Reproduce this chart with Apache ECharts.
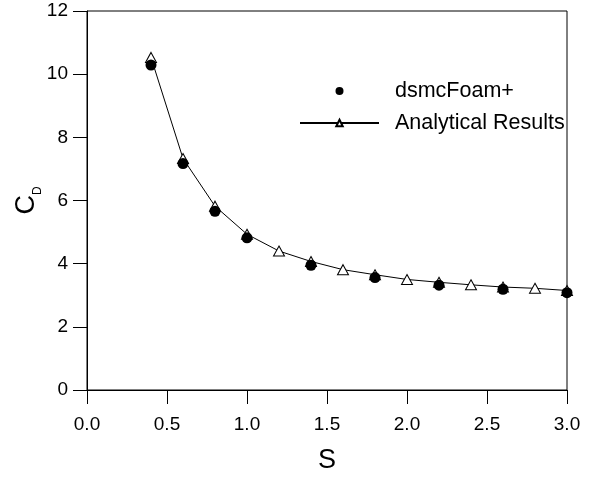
<!DOCTYPE html>
<html>
<head>
<meta charset="utf-8">
<script src="https://cdn.jsdelivr.net/npm/echarts@6/dist/echarts.min.js"></script>
<style>
html,body{margin:0;padding:0;background:#fff;}
#c{width:604px;height:477px;}
</style>
</head>
<body>
<div id="c"></div>
<script>
var dsmcS = [0.4, 0.6, 0.8, 1.0, 1.4, 1.8, 2.2, 2.6, 3.0];
var dsmcCD = [10.29, 7.17, 5.66, 4.82, 3.95, 3.56, 3.32, 3.19, 3.08];
var anaS = [0.4, 0.6, 0.8, 1.0, 1.2, 1.4, 1.6, 1.8, 2.0, 2.2, 2.4, 2.6, 2.8, 3.0];
var anaCD = [10.53, 7.33, 5.82, 4.93, 4.40, 4.07, 3.81, 3.65, 3.50, 3.41, 3.33, 3.26, 3.22, 3.15];
var xTicks = [0.0, 0.5, 1.0, 1.5, 2.0, 2.5, 3.0];
var yTicks = [0, 2, 4, 6, 8, 10, 12];

function pairs(xs, ys){ return xs.map(function(x,i){ return [x, ys[i]]; }); }

var FONT = "'Liberation Sans', Arial, Helvetica, sans-serif";
var chart = echarts.init(document.getElementById('c'), null, {renderer:'canvas'});
chart.setOption({
  animation: false,
  backgroundColor: '#fff',
  textStyle: {fontFamily: FONT, color: '#000'},
  grid: {left: 87, right: 37, top: 11, bottom: 87, containLabel: false, outerBoundsMode: 'none',
    show: true, borderColor: '#000', borderWidth: 1, backgroundColor: 'transparent'},
  legend: {
    orient: 'vertical', left: 299, top: 80, padding: 0,
    itemWidth: 79, itemHeight: 8, itemGap: 10,
    textStyle: {fontFamily: FONT, fontSize: 21.5, color: '#000', lineHeight: 21, padding: [0,0,0,11]},
    data: [{name: 'dsmcFoam+', itemStyle: {opacity: 1}}, 'Analytical Results']
  },
  xAxis: {
    type: 'value', min: xTicks[0], max: xTicks[xTicks.length-1], interval: 0.5,
    name: 'S', nameLocation: 'middle', nameGap: 57, nameMoveOverlap: false,
    nameTextStyle: {fontFamily: FONT, fontSize: 27, color: '#000'},
    axisLine: {show: true, onZero: false, lineStyle: {color: '#000', width: 1}},
    axisTick: {show: true, inside: false, length: 14, lineStyle: {color: '#000'}},
    axisLabel: {margin: 25, fontSize: 19, color: '#000', fontFamily: FONT,
      formatter: function(v){ return v.toFixed(1); }},
    splitLine: {show: false}
  },
  yAxis: {
    type: 'value', min: yTicks[0], max: yTicks[yTicks.length-1], interval: 2,
    name: '{c|C}{d|D}', nameLocation: 'middle', nameGap: 47, nameMoveOverlap: false,
    nameTextStyle: {
      rich: {
        c: {fontFamily: FONT, fontSize: 27, color: '#000'},
        d: {fontFamily: FONT, fontSize: 12, color: '#000', verticalAlign: 'bottom', padding: [0,0,-4,0]}
      }
    },
    axisLine: {show: true, onZero: false, lineStyle: {color: '#000', width: 1}},
    axisTick: {show: true, inside: false, length: 14, lineStyle: {color: '#000'}},
    axisLabel: {margin: 19, fontSize: 19, color: '#000', fontFamily: FONT},
    splitLine: {show: false}
  },
  series: [
    {
      name: 'Analytical Results', type: 'line', data: pairs(anaS, anaCD),
      symbol: 'triangle', symbolSize: [11, 10], showAllSymbol: true,
      lineStyle: {color: '#000', width: 1},
      itemStyle: {color: '#fff', borderColor: '#000', borderWidth: 1, opacity: 1},
      z: 2
    },
    {
      name: 'dsmcFoam+', type: 'scatter', data: pairs(dsmcS, dsmcCD),
      symbol: 'circle', symbolSize: 11,
      itemStyle: {color: '#000', opacity: 1},
      z: 3
    }
  ]
});
</script>
</body>
</html>
